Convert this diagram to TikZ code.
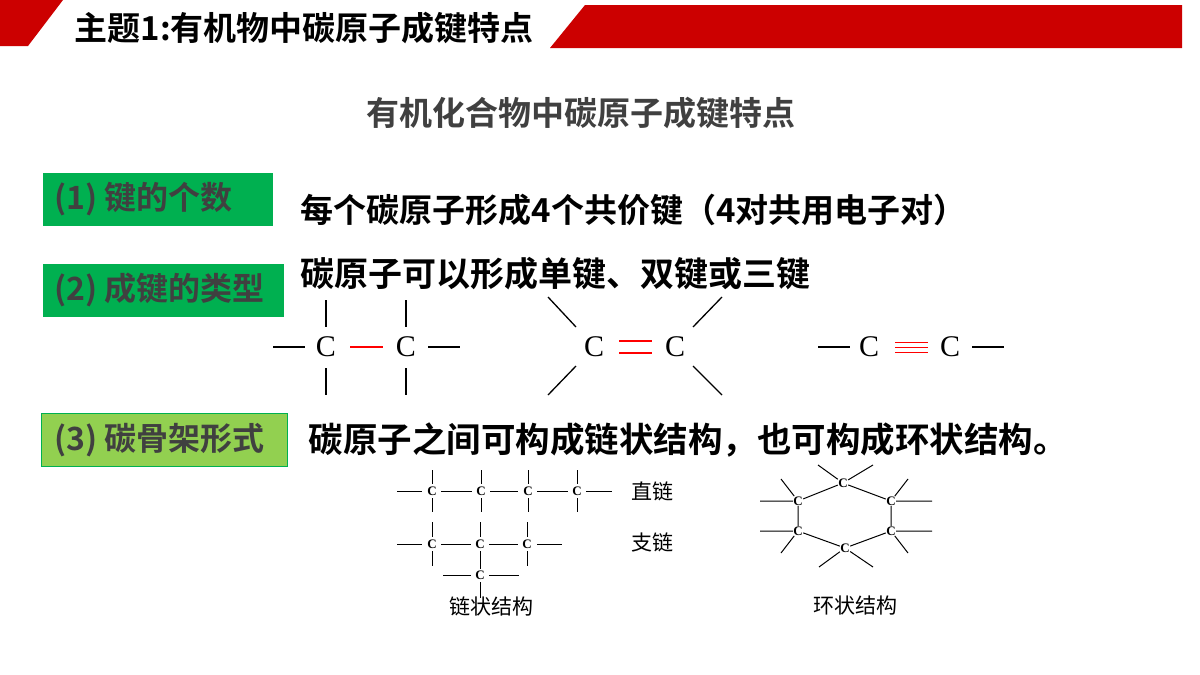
\documentclass[tikz,border=0pt]{standalone}
\usepackage{fontspec}
\setmainfont{Liberation Serif}
\newfontfamily\cjkb{Noto Sans CJK SC Bold}
\newfontfamily\cjk{Noto Sans CJK SC}
\begin{document}
\begin{tikzpicture}[x=1pt,y=-1pt,line width=1.3pt,
  big/.style={font=\fontsize{33}{36}\selectfont\cjkb,anchor=west,inner sep=0},
  gbox/.style={anchor=north west,minimum height=53pt,inner sep=0,text=black!75},
  gtext/.style={anchor=west,inner sep=0,text=black!75,font=\fontsize{32}{36}\selectfont\cjkb},
  bc/.style={font=\fontsize{30}{30}\selectfont,inner sep=0},
  sc/.style={font=\fontsize{13}{13}\selectfont\bfseries,inner sep=0},
  lab/.style={font=\fontsize{21}{21}\selectfont\cjk,inner sep=0},
  thin/.style={line width=1pt}]
\useasboundingbox (0,0) rectangle (1200,675);
\fill[white] (0,0) rectangle (1200,675);
% header
\fill[red!80!black] (0,0) -- (63,0) -- (28,46) -- (0,46) -- cycle;
\fill[red!80!black] (585,5) -- (1182,5) -- (1182,48) -- (550,48) -- cycle;
\node[anchor=west,inner sep=0,font=\fontsize{33}{36}\selectfont\cjkb] (title) at (74,28) {主题1:有机物中碳原子成键特点};
\node[font=\fontsize{33}{36}\selectfont\cjkb,text=black!75,inner sep=0] (sub) at (581,113) {有机化合物中碳原子成键特点};
% boxes
\node[gbox,fill={rgb,255:red,0;green,176;blue,80},minimum width=230pt] (b1) at (42,172) {};
\node[gtext] at (54,199) {(1) 键的个数};
\node[gbox,fill={rgb,255:red,0;green,176;blue,80},minimum width=241pt] (b2) at (42,263) {};
\node[gtext] at (54,290) {(2) 成键的类型};
\node[gbox,fill={rgb,255:red,146;green,208;blue,80},draw={rgb,255:red,0;green,176;blue,80},line width=1pt,minimum width=246pt] (b3) at (41,413) {};
\node[gtext] at (54,440) {(3) 碳骨架形式};
\node[big] (t1) at (300,210) {每个碳原子形成4个共价键（4对共用电子对）};
\node[big,font=\fontsize{34}{36}\selectfont\cjkb] (t2) at (300,274) {碳原子可以形成单键、双键或三键};
\node[big,font=\fontsize{34.5}{36}\selectfont\cjkb] (t3) at (308,440) {碳原子之间可构成链状结构，也可构成环状结构。};
% single bond
\node[bc] (s1) at (326,347) {C};
\node[bc] (s2) at (406,347) {C};
\draw (273,347) -- (305,347); \draw[red] (350,347) -- (383,347); \draw (428,347) -- (460,347);
\draw (326,300) -- (326,327); \draw (326,368) -- (326,395);
\draw (406,300) -- (406,327); \draw (406,368) -- (406,395);
% double bond
\node[bc] (d1) at (594,347) {C};
\node[bc] (d2) at (675,347) {C};
\draw[red] (619,341) -- (652,341); \draw[red] (619,353) -- (652,353);
\draw (548,297) -- (576,327); \draw (548,395) -- (576,366);
\draw (722,297) -- (693,327); \draw (722,395) -- (693,366);
% triple bond
\node[bc] (r1) at (869,347) {C};
\node[bc] (r2) at (950,347) {C};
\draw (818,347) -- (850,347); \draw (972,347) -- (1004,347);
\draw[red,line width=1pt] (895,342) -- (928,342) (895,347) -- (928,347) (895,352) -- (928,352);
% chain
\begin{scope}[thin]
\foreach \x/\n in {432/a,481/b,528/c,577/d} {\node[sc] (c\n) at (\x,491) {C}; \draw (\x,470) -- (\x,484); \draw (\x,498) -- (\x,512);}
\draw (397,491) -- (422,491) (441,491) -- (472,491) (490,491) -- (518,491) (537,491) -- (568,491) (586,491) -- (612,491);
\foreach \x in {432,480,527} {\node[sc] at (\x,544) {C}; \draw (\x,522) -- (\x,537);}
\draw (432,551) -- (432,566) (527,551) -- (527,566) (480,551) -- (480,569);
\draw (397,544) -- (422,544) (441,544) -- (471,544) (489,544) -- (518,544) (537,544) -- (562,544);
\node[sc] (ce) at (480,575) {C};
\draw (443,575) -- (471,575) (489,575) -- (519,575) (480,582) -- (480,598);
\node[lab] (l1) at (652,491) {直链};
\node[lab] (l2) at (652,542) {支链};
\node[lab] (l3) at (491,606) {链状结构};
% ring
\node[sc] (p1) at (843,483) {C};
\node[sc] (p2) at (891,501) {C};
\node[sc] (p3) at (891,531) {C};
\node[sc] (p4) at (845,548) {C};
\node[sc] (p5) at (798,531) {C};
\node[sc] (p6) at (798,501) {C};
\draw (p1) -- (p2) -- (p3) -- (p4) -- (p5) -- (p6) -- (p1);
\draw (p1) -- (818,465) (p1) -- (873,465);
\draw (p6) -- (781,479) (p6) -- (760,501);
\draw (p5) -- (760,531) (p5) -- (781,553);
\draw (p2) -- (908,479) (p2) -- (932,501);
\draw (p3) -- (932,531) (p3) -- (908,553);
\draw (p4) -- (819,567) (p4) -- (873,567);
\node[lab] (l4) at (855,606) {环状结构};
\end{scope}
\end{tikzpicture}
\end{document}
